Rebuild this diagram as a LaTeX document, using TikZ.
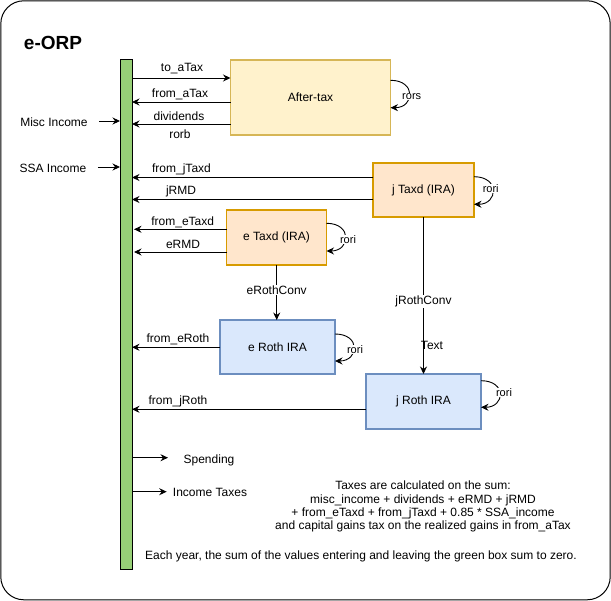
\documentclass[tikz,border=0pt]{standalone}
\usepackage{fontspec}
\setmainfont{Liberation Sans}
\usetikzlibrary{arrows.meta,calc}
\definecolor{yfill}{HTML}{FFF2CC}
\definecolor{ydraw}{HTML}{D6B656}
\definecolor{ofill}{HTML}{FFE6CC}
\definecolor{odraw}{HTML}{D79B00}
\definecolor{bfill}{HTML}{DAE8FC}
\definecolor{bdraw}{HTML}{6C8EBF}
\definecolor{gfill}{HTML}{97D077}
\begin{document}
\begin{tikzpicture}[x=1pt,y=-1pt,
  every node/.style={font=\fontsize{12}{14}\selectfont},
  arr/.style={line width=0.9pt, -{Stealth[length=7.5pt,width=7pt,inset=2.5pt]}},
  plainline/.style={line width=0.9pt},
  lbl/.style={inner sep=1pt},
  loopl/.style={font=\fontsize{11}{13}\selectfont, fill=white, inner sep=0.5pt},
  boxbase/.style={draw, line width=1.5pt, outer sep=0pt, align=center, inner sep=0pt},
  ybox/.style={boxbase, fill=yfill, draw=ydraw},
  obox/.style={boxbase, fill=ofill, draw=odraw},
  bbox/.style={boxbase, fill=bfill, draw=bdraw},
  onlbl/.style={fill=white, inner sep=1pt}
]
\useasboundingbox (0,0) rectangle (611,601);
\draw[line width=1pt, rounded corners=23pt] (0.8,0.8) rectangle (610.2,599.8);

\node[font=\bfseries\fontsize{19}{22}\selectfont] (title) at (53,42.7) {e-ORP};

% green bar
\node[draw, fill=gfill, line width=1pt, minimum width=12pt, minimum height=510pt, inner sep=0pt, outer sep=0pt] (bar) at (126,315) {};

% boxes
\node[ybox, minimum width=160pt, minimum height=75pt] (at) at (310.5,97.5) {After-tax};
\node[obox, minimum width=101pt, minimum height=54pt] (jt) at (423.5,190) {j Taxd (IRA)};
\node[obox, minimum width=100pt, minimum height=55pt] (et) at (276.5,237.5) {e Taxd (IRA)};
\node[bbox, minimum width=115pt, minimum height=54pt] (er) at (277.5,347) {e Roth IRA};
\node[bbox, minimum width=115pt, minimum height=55pt] (jr) at (423.5,401.5) {j Roth IRA};

% after-tax flows
\draw[arr] (bar.east |- 0,78) -- (at.west |- 0,78);
\node[lbl] (l1) at (182,69) {to\_aTax};
\draw[arr] (at.west |- 0,102) -- (bar.east |- 0,102);
\node[lbl] (l2) at (180,94) {from\_aTax};
\draw[arr] (at.west |- 0,124) -- (bar.east |- 0,124);
\node[lbl] (l3) at (179,116) {dividends};
\node[lbl] (l4) at (180,134) {rorb};

% incomes
\node (misc) at (54,122) {Misc Income};
\draw[arr] ([xshift=8pt]misc.east |- 0,121) -- (bar.west |- 0,121);
\node (ssa) at (53,168) {SSA Income};
\draw[arr] ([xshift=8pt]ssa.east |- 0,167) -- (bar.west |- 0,167);

% j Taxd flows
\draw[arr] (jt.west |- 0,177.5) -- (bar.east |- 0,177.5);
\node[lbl] (l5) at (181.5,169.3) {from\_jTaxd};
\draw[arr] (jt.west |- 0,199.5) -- (bar.east |- 0,199.5);
\node[lbl] (l6) at (181,191.5) {jRMD};

% e Taxd flows
\draw[arr] (et.west |- 0,229.3) -- ([xshift=2pt]bar.east |- 0,229.3);
\node[lbl] (l7) at (182.7,222) {from\_eTaxd};
\draw[arr] (et.west |- 0,252) -- ([xshift=2pt]bar.east |- 0,252);
\node[lbl] (l8) at (183,244.5) {eRMD};

% Roth flows
\draw[arr] (er.west |- 0,347.3) -- (bar.east |- 0,347.3);
\node[lbl] (l9) at (178,339.5) {from\_eRoth};
\draw[arr] (jr.west |- 0,409.3) -- (bar.east |- 0,409.3);
\node[lbl] (l10) at (178,401.5) {from\_jRoth};

% conversions
\draw[arr] (et.south -| 276.7,0) -- (er.north -| 276.7,0);
\node[onlbl] (l11) at (276.7,290) {eRothConv};
\draw[arr] (jt.south) -- (jr.north);
\node[onlbl] (l12) at (423.5,301.7) {jRothConv};
\node[lbl] (l13) at (432,345) {Text};

% self loops
\draw[arr] (at.east |- 0,80.3) .. controls +(26,0) and +(24,0) .. (at.east |- 0,107.7);
\node[loopl] (r1) at (411.7,96.7) {rors};
\draw[arr] (jt.east |- 0,176.7) .. controls +(26,0) and +(24,0) .. (jt.east |- 0,204.3);
\node[loopl] (r2) at (490.7,188.3) {rori};
\draw[arr] (et.east |- 0,223.3) .. controls +(26,0) and +(24,0) .. (et.east |- 0,251);
\node[loopl] (r3) at (348,239.3) {rori};
\draw[arr] (er.east |- 0,334) .. controls +(26,0) and +(24,0) .. (er.east |- 0,361);
\node[loopl] (r4) at (355,349.3) {rori};
\draw[arr] (jr.east |- 0,380.7) .. controls +(26,0) and +(24,0) .. (jr.east |- 0,407.3);
\node[loopl] (r5) at (504,392.7) {rori};

% outflows
\coordinate (spE) at (168,457.7);
\draw[arr] (bar.east |- spE) -- (spE);
\node (sp) at (209,460) {Spending};
\coordinate (itE) at (166.7,491.7);
\draw[arr] (bar.east |- itE) -- (itE);
\node (it) at (210,492.7) {Income Taxes};

% notes
\node[align=center, font=\fontsize{12}{13.4}\selectfont] (tax) at (423,506.7) {Taxes are calculated on the sum:\\
misc\_income + dividends + eRMD + jRMD\\
+ from\_eTaxd + from\_jTaxd + 0.85 * SSA\_income\\
and capital gains tax on the realized gains in from\_aTax};
\node (each) at (361,556.7) {Each year, the sum of the values entering and leaving the green box sum to zero.};
\end{tikzpicture}
\end{document}
